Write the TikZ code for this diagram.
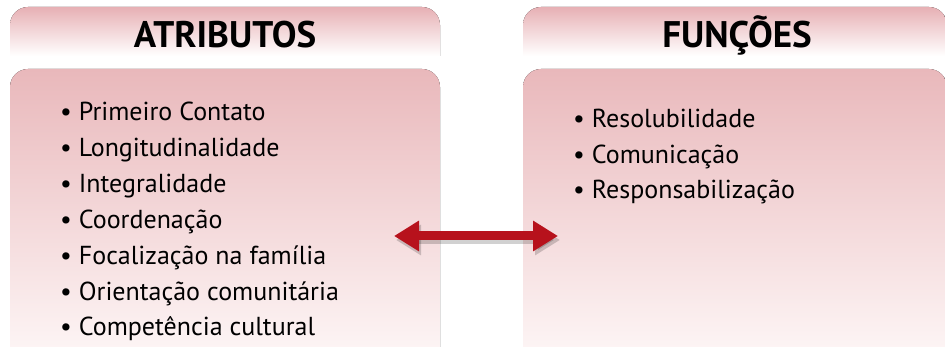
\documentclass[tikz,border=0pt]{standalone}
\usepackage{fontspec}
\setmainfont{PT Sans}
\usetikzlibrary{arrows.meta}
\definecolor{hdrtop}{RGB}{231,176,180}
\definecolor{bodytop}{RGB}{233,184,187}
\definecolor{bodybot}{RGB}{253,245,245}
\definecolor{arrowred}{RGB}{183,18,28}
\tikzset{
  x=1pt,y=1pt,
  hdrbox/.style={top color=hdrtop,bottom color=white},
  bodybox/.style={top color=bodytop,bottom color=bodybot},
  title/.style={font=\fontsize{37}{40}\selectfont\bfseries,anchor=base},
  item/.style={font=\fontsize{26}{30}\selectfont,anchor=base west,inner sep=0pt},
}
\begin{document}
\begin{tikzpicture}
\useasboundingbox (0,0) rectangle (945,347);
\clip (0,0) rectangle (945,347);
\fill[white] (0,0) rectangle (945,347);
% left header
\fill[hdrbox] (10,291) [rounded corners=18pt] -- (10,340) -- (440,340) [sharp corners] -- (440,291) -- cycle;
% left body
\fill[bodybox] (10,-5) [rounded corners=18pt] -- (10,278) -- (440,278) [sharp corners] -- (440,-5) -- cycle;
% right header
\fill[hdrbox] (523,291) [rounded corners=18pt] -- (523,340) -- (947,340) [sharp corners] -- (947,291) -- cycle;
% right body
\fill[bodybox] (523,-5) [rounded corners=18pt] -- (523,278) -- (947,278) [sharp corners] -- (947,-5) -- cycle;
\node[title] (tatr) at (225,299) {ATRIBUTOS};
\node[title] (tfun) at (737,299) {FUNÇÕES};
\node[item] (a1) at (60,226) {\textbullet\ Primeiro Contato};
\node[item] (a2) at (60,190) {\textbullet\ Longitudinalidade};
\node[item] (a3) at (60,154) {\textbullet\ Integralidade};
\node[item] (a4) at (60,118) {\textbullet\ Coordenação};
\node[item] (a5) at (60,82) {\textbullet\ Focalização na família};
\node[item] (a6) at (60,46) {\textbullet\ Orientação comunitária};
\node[item] (a7) at (60,11) {\textbullet\ Competência cultural};
\node[item] (f1) at (573,219) {\textbullet\ Resolubilidade};
\node[item] (f2) at (573,183) {\textbullet\ Comunicação};
\node[item] (f3) at (573,148) {\textbullet\ Responsabilização};
\coordinate (la) at (394,111);
\coordinate (ra) at (558,111);
\draw[black,opacity=0.18,line width=9pt,{Triangle[length=25pt,width=29pt]}-{Triangle[length=25pt,width=29pt]}] ([shift={(2,-4)}]la) -- ([shift={(2,-4)}]ra);
\draw[arrowred,line width=9pt,{Triangle[length=25pt,width=29pt]}-{Triangle[length=25pt,width=29pt]}] (la) -- (ra);
\end{tikzpicture}
\end{document}
